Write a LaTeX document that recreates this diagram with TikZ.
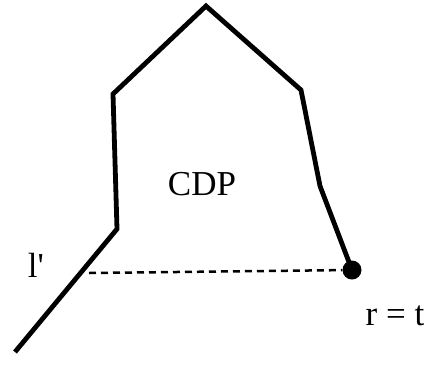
\documentclass[tikz,border=0pt]{standalone}
\usepackage{fontspec}
\setmainfont{Liberation Serif}
\begin{document}
\begin{tikzpicture}[x=1pt,y=-1pt,
  edge/.style={line width=4.8pt,line join=miter},
  dashline/.style={line width=2.5pt,dash pattern=on 7pt off 5pt},
  lbl/.style={inner sep=0pt,font=\fontsize{35}{40}\selectfont}]
\useasboundingbox (0,0) rectangle (432,368);
\coordinate (A) at (15,352);
\coordinate (B) at (117,229);
\coordinate (C) at (113,94);
\coordinate (D) at (206,6);
\coordinate (E) at (301,90);
\coordinate (F) at (320,186);
\node[circle,fill=black,inner sep=0pt,minimum size=19pt] (G) at (352,270) {};
\coordinate (L) at (89,273);
\draw[edge] (A) -- (B) -- (C) -- (D) -- (E) -- (F) -- (G.center);
\draw[dashline] (L) -- (G);
\node[lbl] (cdp) at (202,184) {CDP};
\node[lbl] (lp) at (36,265) {l\textquotesingle};
\node[lbl] (rt) at (395,316) {r = t};
\end{tikzpicture}
\end{document}
